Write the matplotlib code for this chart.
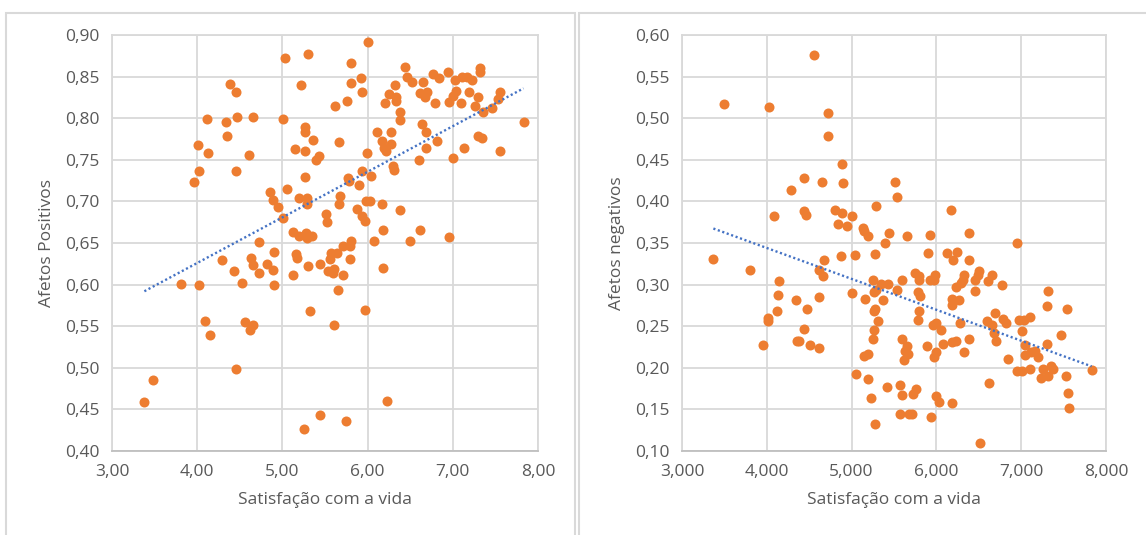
import numpy as np
import matplotlib.pyplot as plt
from matplotlib.patches import Rectangle
from matplotlib.ticker import FuncFormatter

# ── data ──────────────────────────────────────────────────────────────────────
# Satisfação com a vida vs. Afetos Positivos
sat_pos = [
    6.01, 5.03, 5.30, 5.81, 4.38, 4.45, 5.22, 5.80, 5.92, 5.93, 5.76, 5.62,
    6.44, 6.46, 6.52, 6.32, 6.65, 6.77, 6.84, 6.94, 7.03, 7.11, 7.17, 7.23,
    7.32, 7.32, 6.25, 6.20, 6.33, 6.33, 6.61, 6.67, 6.70, 6.79, 6.96, 7.00,
    7.04, 7.10, 7.19, 7.26, 7.30, 7.55, 7.53, 7.46, 7.36, 7.83, 6.38, 6.38,
    6.11, 6.28, 6.64, 6.69, 6.81, 7.29, 7.34, 7.13, 7.55, 6.68, 6.60, 7.00,
    6.17, 6.19, 6.27, 6.22, 5.99, 6.30, 6.31, 6.04, 5.93, 5.67, 5.27, 5.27,
    5.36, 5.15, 5.27, 5.39, 5.43, 5.26, 5.77, 5.78, 5.90, 4.12, 4.34, 4.47,
    4.66, 5.01, 4.35, 4.01, 4.13, 4.61, 4.45, 4.02, 3.96, 5.05, 4.85, 4.89,
    4.95, 5.01, 5.20, 5.29, 5.29, 5.68, 5.66, 5.88, 5.98, 6.03, 6.17, 6.38,
    5.51, 5.52, 5.94, 5.97, 5.12, 5.19, 5.28, 5.29, 5.35, 6.18, 6.62, 6.95,
    6.07, 6.50, 4.72, 4.29, 4.63, 4.65, 4.90, 4.82, 4.89, 4.72, 4.43, 4.90,
    4.52, 3.81, 4.02, 5.16, 5.17, 5.13, 5.30, 5.44, 5.57, 5.56, 5.64, 5.71,
    5.79, 5.80, 5.79, 5.61, 5.54, 5.59, 5.71, 6.18, 5.65, 5.32, 5.97, 5.61,
    4.09, 4.15, 4.56, 4.66, 4.62, 4.46, 3.48, 3.38, 6.23, 5.44, 5.75, 5.25,
]
afetos_pos = [
    0.892, 0.872, 0.877, 0.866, 0.841, 0.831, 0.840, 0.842, 0.848, 0.832, 0.821, 0.815,
    0.862, 0.850, 0.844, 0.840, 0.843, 0.853, 0.848, 0.856, 0.846, 0.849, 0.850, 0.846,
    0.860, 0.855, 0.829, 0.818, 0.825, 0.821, 0.830, 0.826, 0.832, 0.818, 0.819, 0.827,
    0.833, 0.818, 0.831, 0.815, 0.825, 0.832, 0.823, 0.812, 0.807, 0.796, 0.808, 0.798,
    0.784, 0.783, 0.793, 0.783, 0.772, 0.779, 0.776, 0.764, 0.760, 0.764, 0.750, 0.752,
    0.773, 0.764, 0.769, 0.760, 0.758, 0.743, 0.738, 0.731, 0.736, 0.771, 0.790, 0.783,
    0.774, 0.763, 0.760, 0.750, 0.754, 0.729, 0.728, 0.724, 0.720, 0.799, 0.795, 0.801,
    0.801, 0.799, 0.779, 0.768, 0.758, 0.756, 0.736, 0.736, 0.723, 0.715, 0.711, 0.702,
    0.693, 0.680, 0.704, 0.704, 0.697, 0.707, 0.697, 0.691, 0.701, 0.701, 0.697, 0.690,
    0.685, 0.675, 0.682, 0.676, 0.663, 0.659, 0.662, 0.656, 0.658, 0.666, 0.666, 0.657,
    0.652, 0.652, 0.651, 0.630, 0.632, 0.623, 0.639, 0.625, 0.618, 0.614, 0.616, 0.599,
    0.602, 0.601, 0.600, 0.637, 0.632, 0.612, 0.622, 0.625, 0.638, 0.631, 0.638, 0.646,
    0.646, 0.652, 0.631, 0.619, 0.616, 0.614, 0.612, 0.620, 0.594, 0.568, 0.570, 0.552,
    0.556, 0.540, 0.555, 0.551, 0.546, 0.499, 0.485, 0.459, 0.460, 0.443, 0.436, 0.427,
]

# Satisfação com a vida vs. Afetos negativos
sat_neg = [
    4.56, 3.49, 4.03, 4.72, 4.72, 4.89, 4.44, 4.65, 4.90, 4.29, 5.51, 5.53,
    4.08, 4.44, 4.46, 4.81, 4.89, 5.00, 5.29, 6.17, 4.84, 4.94, 5.13, 5.15,
    5.19, 5.44, 5.39, 5.65, 5.93, 6.38, 6.95, 3.37, 3.80, 4.67, 4.88, 5.04,
    5.28, 5.90, 6.12, 6.24, 6.20, 6.38, 4.61, 4.66, 4.14, 5.25, 5.35, 5.43,
    5.60, 5.75, 5.79, 5.79, 5.93, 5.98, 5.97, 6.32, 6.31, 6.29, 6.45, 6.49,
    6.50, 6.66, 6.61, 6.77, 6.23, 5.01, 5.29, 5.27, 5.53, 5.78, 5.81, 6.46,
    7.32, 4.13, 4.61, 5.16, 5.37, 4.35, 6.18, 6.27, 6.18, 4.47, 4.12, 5.28,
    5.26, 5.80, 7.30, 7.54, 6.69, 4.02, 4.01, 5.31, 5.78, 6.00, 5.96, 6.05,
    6.28, 6.60, 6.65, 6.79, 6.82, 6.97, 7.03, 7.10, 7.01, 4.44, 5.26, 6.68,
    7.47, 3.96, 4.36, 4.38, 4.51, 4.61, 5.25, 5.59, 5.65, 5.89, 5.99, 6.08,
    6.18, 6.23, 6.38, 6.33, 6.70, 7.04, 7.30, 5.15, 5.19, 5.63, 5.67, 5.62,
    5.97, 6.85, 7.05, 7.11, 7.16, 7.20, 6.95, 7.01, 7.10, 7.26, 7.35, 7.38,
    7.83, 7.23, 7.32, 7.53, 5.05, 5.19, 5.42, 5.23, 5.57, 5.60, 5.72, 5.76,
    6.00, 6.03, 6.18, 6.62, 7.55, 7.56, 5.57, 5.68, 5.71, 5.94, 5.28, 6.52,
]
afetos_neg = [
    0.576, 0.517, 0.513, 0.506, 0.479, 0.445, 0.428, 0.423, 0.422, 0.414, 0.423, 0.405,
    0.382, 0.389, 0.384, 0.390, 0.386, 0.383, 0.395, 0.390, 0.373, 0.370, 0.368, 0.364,
    0.359, 0.362, 0.350, 0.358, 0.360, 0.362, 0.350, 0.331, 0.318, 0.329, 0.334, 0.336,
    0.337, 0.338, 0.338, 0.339, 0.329, 0.330, 0.318, 0.310, 0.304, 0.306, 0.301, 0.301,
    0.305, 0.314, 0.310, 0.305, 0.305, 0.312, 0.305, 0.312, 0.305, 0.302, 0.305, 0.312,
    0.316, 0.312, 0.304, 0.299, 0.297, 0.290, 0.293, 0.291, 0.294, 0.291, 0.286, 0.292,
    0.292, 0.287, 0.285, 0.283, 0.281, 0.281, 0.283, 0.281, 0.276, 0.271, 0.268, 0.271,
    0.268, 0.268, 0.274, 0.271, 0.266, 0.260, 0.256, 0.256, 0.258, 0.254, 0.251, 0.246,
    0.254, 0.256, 0.252, 0.259, 0.254, 0.258, 0.258, 0.261, 0.244, 0.247, 0.246, 0.242,
    0.239, 0.228, 0.232, 0.232, 0.228, 0.224, 0.235, 0.235, 0.226, 0.226, 0.219, 0.229,
    0.231, 0.232, 0.235, 0.219, 0.232, 0.228, 0.229, 0.214, 0.216, 0.220, 0.217, 0.209,
    0.213, 0.211, 0.215, 0.219, 0.220, 0.213, 0.196, 0.196, 0.198, 0.198, 0.202, 0.199,
    0.197, 0.188, 0.190, 0.190, 0.192, 0.186, 0.177, 0.164, 0.179, 0.167, 0.168, 0.174,
    0.166, 0.159, 0.158, 0.182, 0.170, 0.152, 0.145, 0.144, 0.144, 0.141, 0.133, 0.110,
]

x_ticks = [3, 4, 5, 6, 7, 8]
pos_ticks = [0.40, 0.45, 0.50, 0.55, 0.60, 0.65, 0.70, 0.75, 0.80, 0.85, 0.90]
neg_ticks = [0.10, 0.15, 0.20, 0.25, 0.30, 0.35, 0.40, 0.45, 0.50, 0.55, 0.60]

# ── style ─────────────────────────────────────────────────────────────────────
ORANGE = "#ED7D31"
BLUE = "#4472C4"
GRID = "#D9D9D9"
TEXT = "#595959"
plt.rcParams["font.family"] = ["Open Sans", "DejaVu Sans"]

W, H = 1146, 535
fig = plt.figure(figsize=(W / 100, H / 100), dpi=100)


def px_axes(x0, y0, x1, y1):
    # pixel box (top-left origin) -> figure axes
    return fig.add_axes([x0 / W, 1 - y1 / H, (x1 - x0) / W, (y1 - y0) / H])


def comma(decimals):
    return FuncFormatter(lambda v, _: f"{v:.{decimals}f}".replace(".", ","))


def scatter_panel(ax, xs, ys, yticks, xdec, ylabel):
    xs, ys = np.asarray(xs), np.asarray(ys)
    ax.scatter(xs, ys, s=52, color=ORANGE, linewidths=0, zorder=3)

    # linear trendline
    slope, icpt = np.polyfit(xs, ys, 1)
    xl = np.array([xs.min(), xs.max()])
    ax.plot(xl, slope * xl + icpt, color=BLUE, lw=1.7,
            linestyle=(0, (0.9, 1.1)), zorder=4)

    ax.set_xlim(3, 8)
    ax.set_ylim(yticks[0], yticks[-1])
    ax.set_xticks(x_ticks)
    ax.set_yticks(yticks)
    ax.xaxis.set_major_formatter(comma(xdec))
    ax.yaxis.set_major_formatter(comma(2))
    ax.grid(True, color=GRID, lw=1.3)
    ax.set_axisbelow(True)
    for side in ("top", "right", "left"):
        ax.spines[side].set_color(GRID)
        ax.spines[side].set_linewidth(1.3)
    ax.spines["bottom"].set_color("#BFBFBF")
    ax.spines["bottom"].set_linewidth(1.3)
    ax.tick_params(length=0, labelsize=12.5, labelcolor=TEXT, pad=9)
    ax.set_xlabel("Satisfação com a vida", fontsize=12.5, color=TEXT, labelpad=9)
    ax.set_ylabel(ylabel, fontsize=12.5, color=TEXT, labelpad=7)


# chart frames
fig.patches.append(Rectangle((6 / W, -0.1), 569 / W, 1.1 - 13 / H,
                             transform=fig.transFigure, fill=False,
                             edgecolor=GRID, lw=1.5))
fig.patches.append(Rectangle((579 / W, -0.1), 600 / W, 1.1 - 13 / H,
                             transform=fig.transFigure, fill=False,
                             edgecolor=GRID, lw=1.5))

ax1 = px_axes(112, 35, 538, 451)
scatter_panel(ax1, sat_pos, afetos_pos, pos_ticks, 2, "Afetos Positivos")

ax2 = px_axes(682, 35, 1106, 451)
scatter_panel(ax2, sat_neg, afetos_neg, neg_ticks, 3, "Afetos negativos")

fig.savefig("out.png", dpi=100, facecolor="white")
